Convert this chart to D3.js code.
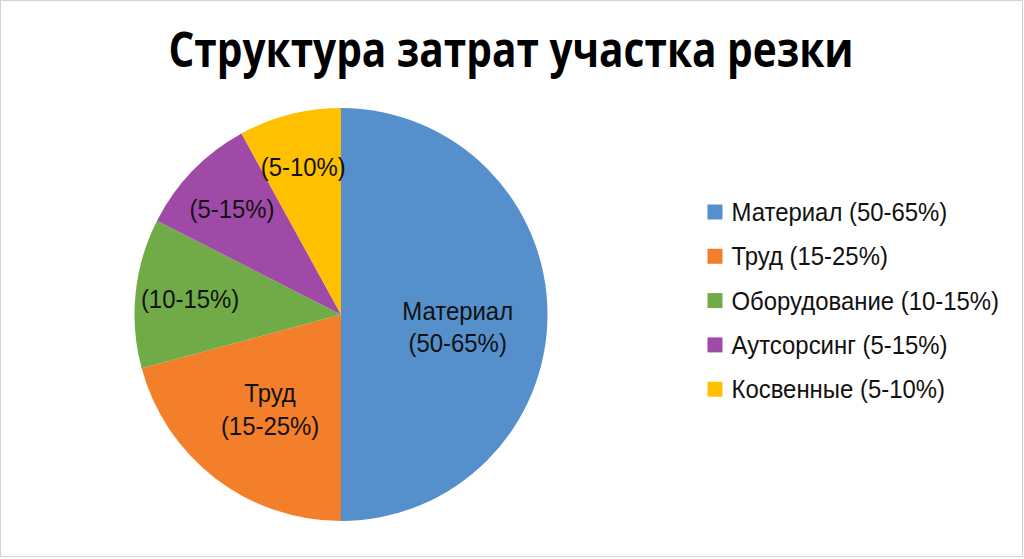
<!DOCTYPE html>
<html>
<head>
<meta charset="utf-8">
<script src="https://cdn.jsdelivr.net/npm/d3@7"></script>
<style>
  body { margin: 0; background: #fff; }
  svg { display: block; }
</style>
</head>
<body>
<svg id="chart" width="1024" height="559"></svg>
<script>
// shares (percent of the full circle)
const categories = ['Материал', 'Труд', 'Оборудование', 'Аутсорсинг', 'Косвенные'];
const ranges = ['(50-65%)', '(15-25%)', '(10-15%)', '(5-15%)', '(5-10%)'];
const shares = [50, 20.8, 11.7, 9.5, 8.0];
const colors = ['#5590cc', '#f47f2a', '#71ab48', '#a04aa8', '#ffc000'];

const width = 1024;
const height = 559;
const labelFont = '"Liberation Sans", Arial, sans-serif';
const squeeze = 0.92; // condensed look of the original labels

const svg = d3.select('#chart');

svg.append('rect')
  .attr('x', 0.5).attr('y', 0.5)
  .attr('width', width - 2).attr('height', height - 3)
  .attr('fill', '#fff')
  .attr('stroke', '#d4d4d4');

svg.append('text')
  .attr('x', 511)
  .attr('y', 67)
  .attr('text-anchor', 'middle')
  .attr('textLength', 685)
  .attr('lengthAdjust', 'spacingAndGlyphs')
  .style('font-family', '"Open Sans", "Noto Sans", sans-serif')
  .style('font-weight', 700)
  .style('font-size', '49px')
  .text('Структура затрат участка резки');

const data = categories.map((c, i) => ({ name: c, range: ranges[i], value: shares[i], color: colors[i] }));

const radius = 206.5;
const pie = d3.pie().sort(null).value(d => d.value);
const arc = d3.arc().innerRadius(0).outerRadius(radius);

const g = svg.append('g')
  .attr('transform', 'translate(341, 314.5)');

const arcs = pie(data);

g.selectAll('path').data(arcs)
  .enter().append('path')
    .attr('d', arc)
    .attr('fill', d => d.data.color);

// big slices get name + range, small ones only the range pushed outwards
const withName = d => d.data.value >= 20;
const innerLabel = d3.arc().innerRadius(radius * 0.565).outerRadius(radius * 0.565);
const outerLabel = d3.arc().innerRadius(radius * 0.735).outerRadius(radius * 0.735);
const nudge = { 'Материал': 10 };

const labels = g.selectAll('text.lbl').data(arcs)
  .enter().append('text')
    .attr('class', 'lbl')
    .attr('text-anchor', 'middle')
    .style('font-family', labelFont)
    .style('font-size', '26px')
    .attr('fill', '#111')
    .attr('transform', d => {
      const [x, y] = (withName(d) ? innerLabel : outerLabel).centroid(d);
      return `translate(${x}, ${y + (nudge[d.data.name] || 0)}) scale(${squeeze}, 1)`;
    });

labels.each(function (d) {
  const t = d3.select(this);
  if (withName(d)) {
    t.append('tspan').attr('x', 0).attr('y', -5).text(d.data.name);
    t.append('tspan').attr('x', 0).attr('y', 28).text(d.data.range);
  } else {
    t.append('tspan').attr('x', 0).attr('y', 9).text(d.data.range);
  }
});

// legend
const legend = svg.append('g')
  .attr('transform', 'translate(707.5, 221)');

const rows = legend.selectAll('g').data(data)
  .enter().append('g')
    .attr('transform', (d, i) => `translate(0, ${i * 44.3})`);

rows.append('rect')
  .attr('x', 0).attr('y', -16.5)
  .attr('width', 15).attr('height', 15)
  .attr('fill', d => d.color);

rows.append('text')
  .attr('transform', `translate(24, 0) scale(${squeeze}, 1)`)
  .style('font-family', labelFont)
  .style('font-size', '26px')
  .attr('fill', '#111')
  .text(d => `${d.name} ${d.range}`);
</script>
</body>
</html>
